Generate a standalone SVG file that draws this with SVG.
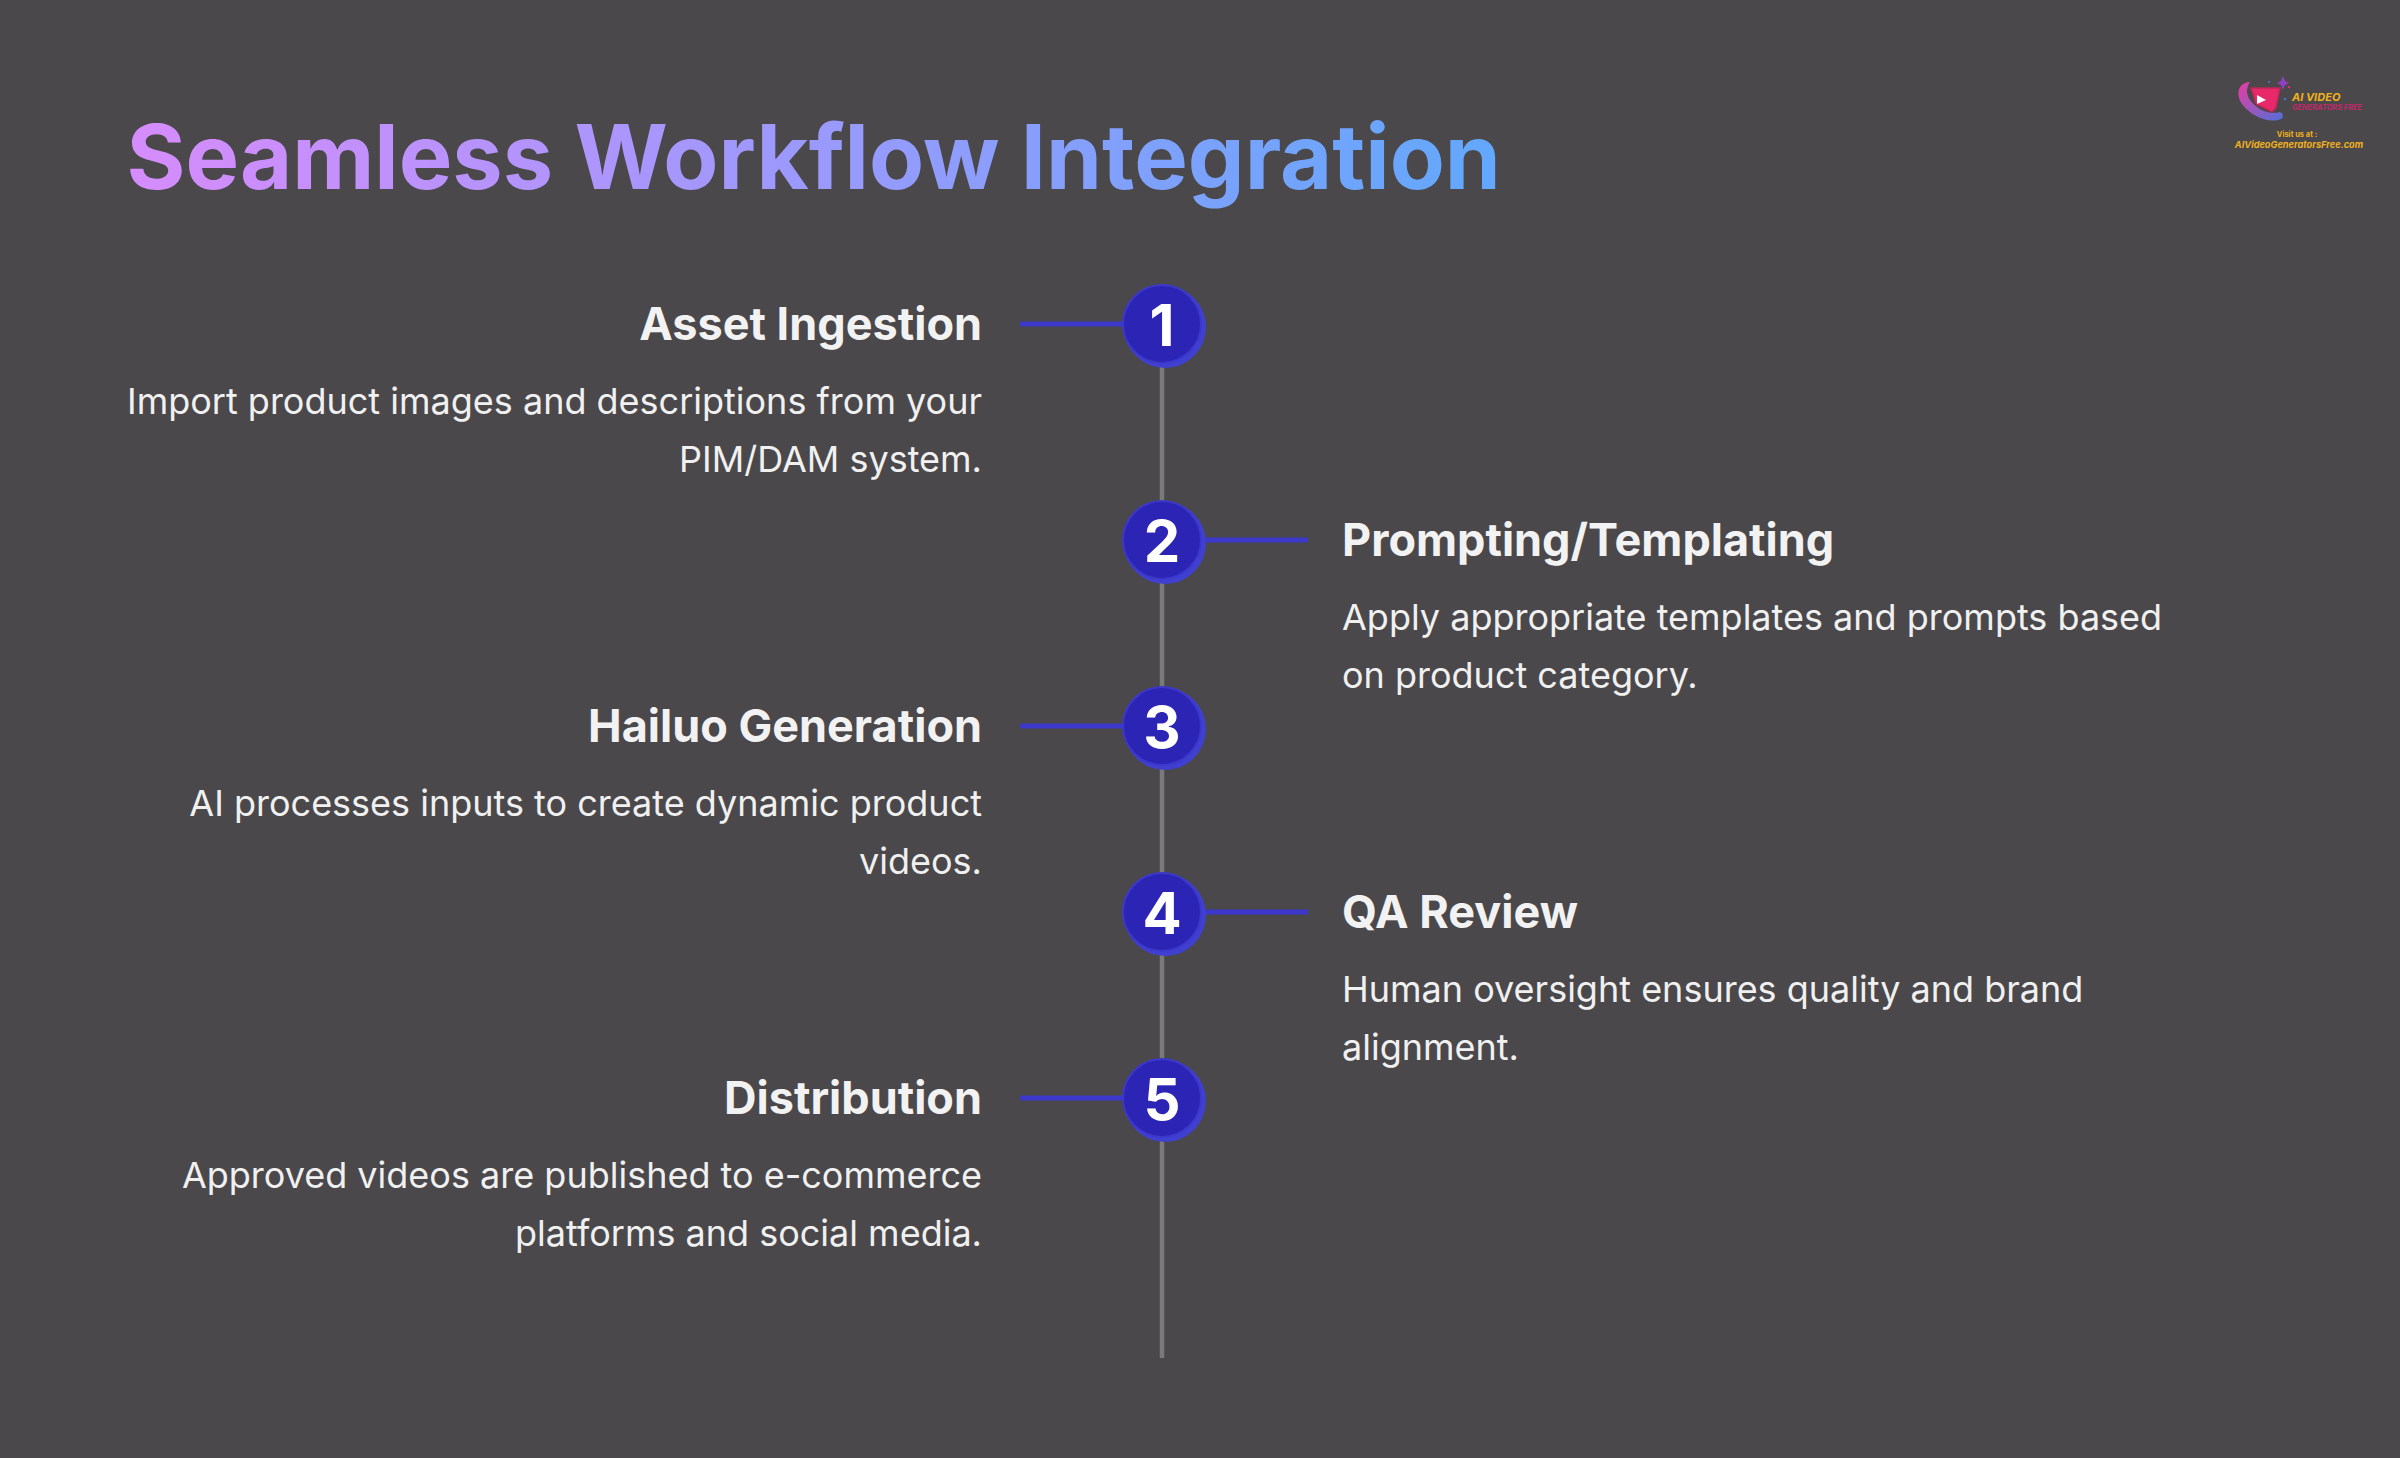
<svg xmlns="http://www.w3.org/2000/svg" width="2400" height="1458" viewBox="0 0 2400 1458">
<style>
text{font-family:Inter,"Noto Sans",sans-serif}
.h{font-size:45px;font-weight:700;fill:#f2f2f2}
.b{font-size:36px;font-weight:400;fill:#f0f0f0}
.e{text-anchor:end}
.n{font-size:58px;font-weight:700;fill:#fff;text-anchor:middle}
.o{fill:#4040d0}.c{fill:#2c24b4;stroke:#3c38cc;stroke-width:2}
.s{stroke:#3c38cc;stroke-width:5;fill:none}
</style>
<defs><linearGradient id="t" gradientUnits="userSpaceOnUse" x1="127" y1="0" x2="1498" y2="0"><stop offset="0" stop-color="#d68cfc"/><stop offset="0.45" stop-color="#a098fc"/><stop offset="1" stop-color="#62a8fc"/></linearGradient>
<linearGradient id="r" x1="0" y1="0" x2="1" y2="1"><stop offset="0" stop-color="#e83ca0"/><stop offset="1" stop-color="#5070d8"/></linearGradient></defs>
<rect width="2400" height="1458" fill="#4a484a"/>
<text id="title" x="126.500" y="188.500" font-size="90" font-weight="700" fill="url(#t)">Seamless Workflow Integration</text>
<g id="connectors">
<path d="M1162 340V1358" stroke="#7a7a7a" stroke-width="4.500" fill="none"/>
<path class="s" d="M1020 324H1130M1200 540H1308M1020 726H1130M1200 912H1308M1020 1098H1130"/>
</g>
<g id="node1"><circle class="o" cx="1165" cy="327" r="41"/><circle class="c" cx="1162" cy="324" r="39"/><text class="n" x="1162" y="346">1</text>
<text class="h e" x="982" y="340">Asset Ingestion</text><text class="b e" x="982" y="414">Import product images and descriptions from your</text><text class="b e" x="982" y="472">PIM/DAM system.</text></g>
<g id="node2"><circle class="o" cx="1165" cy="543" r="41"/><circle class="c" cx="1162" cy="540" r="39"/><text class="n" x="1162" y="562">2</text>
<text class="h" x="1342" y="556">Prompting/Templating</text><text class="b" x="1342" y="630">Apply appropriate templates and prompts based</text><text class="b" x="1342" y="688">on product category.</text></g>
<g id="node3"><circle class="o" cx="1165" cy="729" r="41"/><circle class="c" cx="1162" cy="726" r="39"/><text class="n" x="1162" y="748">3</text>
<text class="h e" x="982" y="742">Hailuo Generation</text><text class="b e" x="982" y="816">AI processes inputs to create dynamic product</text><text class="b e" x="982" y="874">videos.</text></g>
<g id="node4"><circle class="o" cx="1165" cy="915" r="41"/><circle class="c" cx="1162" cy="912" r="39"/><text class="n" x="1162" y="934">4</text>
<text class="h" x="1342" y="928">QA Review</text><text class="b" x="1342" y="1002">Human oversight ensures quality and brand</text><text class="b" x="1342" y="1060">alignment.</text></g>
<g id="node5"><circle class="o" cx="1165" cy="1101" r="41"/><circle class="c" cx="1162" cy="1098" r="39"/><text class="n" x="1162" y="1120">5</text>
<text class="h e" x="982" y="1114">Distribution</text><text class="b e" x="982" y="1188">Approved videos are published to e-commerce</text><text class="b e" x="982" y="1246">platforms and social media.</text></g>
<g id="logo">
<path d="M2250 82C2237 83 2236 95 2242 104C2251 116 2268 124 2281 119C2285 116 2282 113 2280 112C2270 115 2257 110 2250 100C2246 94 2246 88 2250 82Z" fill="url(#r)"/>
<path d="M2251 88L2280 88L2276 108L2272 112L2256 104Z" fill="#e82868" stroke="#b82858" stroke-width="1.500"/>
<path d="M2257 95L2266 100L2257 104Z" fill="#fff"/>
<path d="M2283 76l2 5 4 2-4 2-2 5-2-5-4-2 4-2z" fill="#9040c0"/>
<circle cx="2289" cy="87" r="1.200" fill="#e03070"/><circle cx="2269" cy="82" r="1" fill="#4080d0"/><circle cx="2285" cy="99" r="1.200" fill="#4080d0"/>
<text x="2292" y="101" font-size="11" font-weight="700" font-style="italic" fill="#f0b020">AI VIDEO</text>
<text x="2292" y="110" font-size="7.400" font-weight="700" font-style="italic" fill="#c02868">GENERATORS FREE</text>
<text x="2297" y="137" font-size="7.500" font-weight="700" fill="#f0b020" text-anchor="middle">Visit us at :</text>
<text x="2299" y="148" font-size="9.200" font-weight="700" font-style="italic" fill="#f0b020" text-anchor="middle">AIVideoGeneratorsFree.com</text>
</g>
</svg>
